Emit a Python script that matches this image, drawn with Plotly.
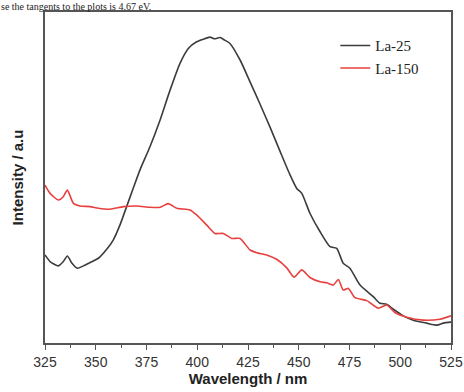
import plotly.graph_objects as go

# La-25 (black) spectrum
wl_25 = [325.0, 327.5, 331.6, 334.0, 336.0, 338.2, 340.9, 343.9, 347.2, 351.3,
         355.4, 358.6, 361.9, 365.2, 368.5, 371.8, 376.7, 381.7, 386.6, 391.5,
         395.6, 399.7, 403.0, 406.3, 408.5, 411.2, 413.5, 416.1, 421.1, 426.0,
         430.9, 435.8, 440.8, 445.7, 449.0, 451.5, 455.5, 460.5, 465.4, 468.7,
         471.9, 475.2, 480.2, 486.7, 490.0, 493.3, 496.6, 501.5, 506.4, 513.0,
         518.0, 521.2, 525.0]
int_25 = [26.6, 24.6, 23.3, 24.6, 26.3, 24.2, 22.6, 23.3, 24.3, 25.6,
          28.3, 31.1, 35.6, 41.2, 46.8, 52.3, 59.3, 67.4, 76.4, 84.5,
          89.0, 91.0, 91.8, 92.4, 91.9, 92.3, 91.5, 90.5, 85.5, 78.9,
          72.2, 65.3, 57.9, 50.8, 46.7, 45.2, 39.2, 33.6, 29.1, 28.6,
          24.1, 22.6, 17.5, 14.0, 12.0, 11.7, 10.2, 8.2, 6.9, 6.0,
          5.4, 6.0, 6.3]

# La-150 (red) spectrum
wl_150 = [325.0, 327.5, 331.6, 334.0, 336.0, 339.0, 342.2, 347.2, 351.3, 357.0,
          363.6, 370.2, 376.7, 381.7, 385.7, 389.9, 396.4, 399.7, 404.7, 408.7,
          412.8, 417.0, 421.1, 426.0, 429.3, 434.2, 439.1, 444.1, 447.7, 451.5,
          455.5, 460.5, 463.8, 467.0, 469.5, 471.9, 474.4, 477.7, 483.5, 489.2,
          493.3, 497.4, 503.2, 511.4, 519.6, 525.0]
int_150 = [47.7, 45.2, 43.2, 44.2, 46.2, 42.2, 41.4, 41.2, 40.7, 40.4,
           41.2, 41.4, 41.0, 41.0, 42.1, 40.7, 40.2, 38.7, 35.6, 33.1,
           33.1, 31.6, 31.6, 28.1, 27.3, 26.6, 25.3, 22.7, 19.9, 22.1,
           19.8, 18.5, 18.2, 17.5, 19.2, 16.0, 16.5, 13.7, 12.8, 10.5,
           11.5, 9.2, 7.8, 6.9, 7.2, 8.2]

x_ticks = [325, 350, 375, 400, 425, 450, 475, 500, 525]

fig = go.Figure()
fig.add_trace(go.Scatter(x=wl_25, y=int_25, mode="lines", name="La-25",
                         line=dict(color="#3c3c3c", width=1.6, shape="spline", smoothing=0.6)))
fig.add_trace(go.Scatter(x=wl_150, y=int_150, mode="lines", name="La-150",
                         line=dict(color="#e8403e", width=1.6, shape="spline", smoothing=0.6)))

fig.update_layout(
    width=464, height=392,
    margin=dict(l=45, r=13, t=12, b=49, autoexpand=False),
    paper_bgcolor="white", plot_bgcolor="white",
    showlegend=True,
    legend=dict(x=0.715, y=0.948, xanchor="left", yanchor="top",
                bgcolor="rgba(0,0,0,0)", tracegroupgap=0, itemwidth=30,
                font=dict(family="Liberation Serif", size=15, color="#222")),
    xaxis=dict(range=[325, 525], tickmode="array", tickvals=x_ticks,
               ticktext=[str(v) for v in x_ticks], automargin=False,
               ticks="outside", ticklen=5, tickwidth=1.3, tickcolor="#555",
               minor=dict(dtick=12.5, tick0=325, ticks="outside", ticklen=3, tickcolor="#555", tickwidth=1.1),
               showline=True, linecolor="#555", linewidth=1.5, mirror=True,
               showgrid=False, zeroline=False,
               tickfont=dict(family="Liberation Sans", size=14, color="#333"),
               title=dict(text="<b>Wavelength / nm</b>", standoff=4,
                          font=dict(family="Liberation Sans", size=15, color="#222"))),
    yaxis=dict(range=[0, 100], showticklabels=False, ticks="", automargin=False,
               showline=True, linecolor="#555", linewidth=1.5, mirror=True,
               showgrid=False, zeroline=False,
               title=dict(text="<b>Intensity / a.u</b>", standoff=16,
                          font=dict(family="Liberation Sans", size=15, color="#222"))),
)

fig.add_annotation(text="se the tangents to the plots is 4.67 eV.", xref="paper", yref="paper",
                   x=-0.111, y=1.036, xanchor="left", yanchor="top", showarrow=False,
                   borderpad=0,
                   font=dict(family="Liberation Serif", size=10, color="#222"))

fig.write_html("out.html", config={"displayModeBar": False},
               post_script="document.body.style.margin='0px';document.body.style.overflow='hidden';")
